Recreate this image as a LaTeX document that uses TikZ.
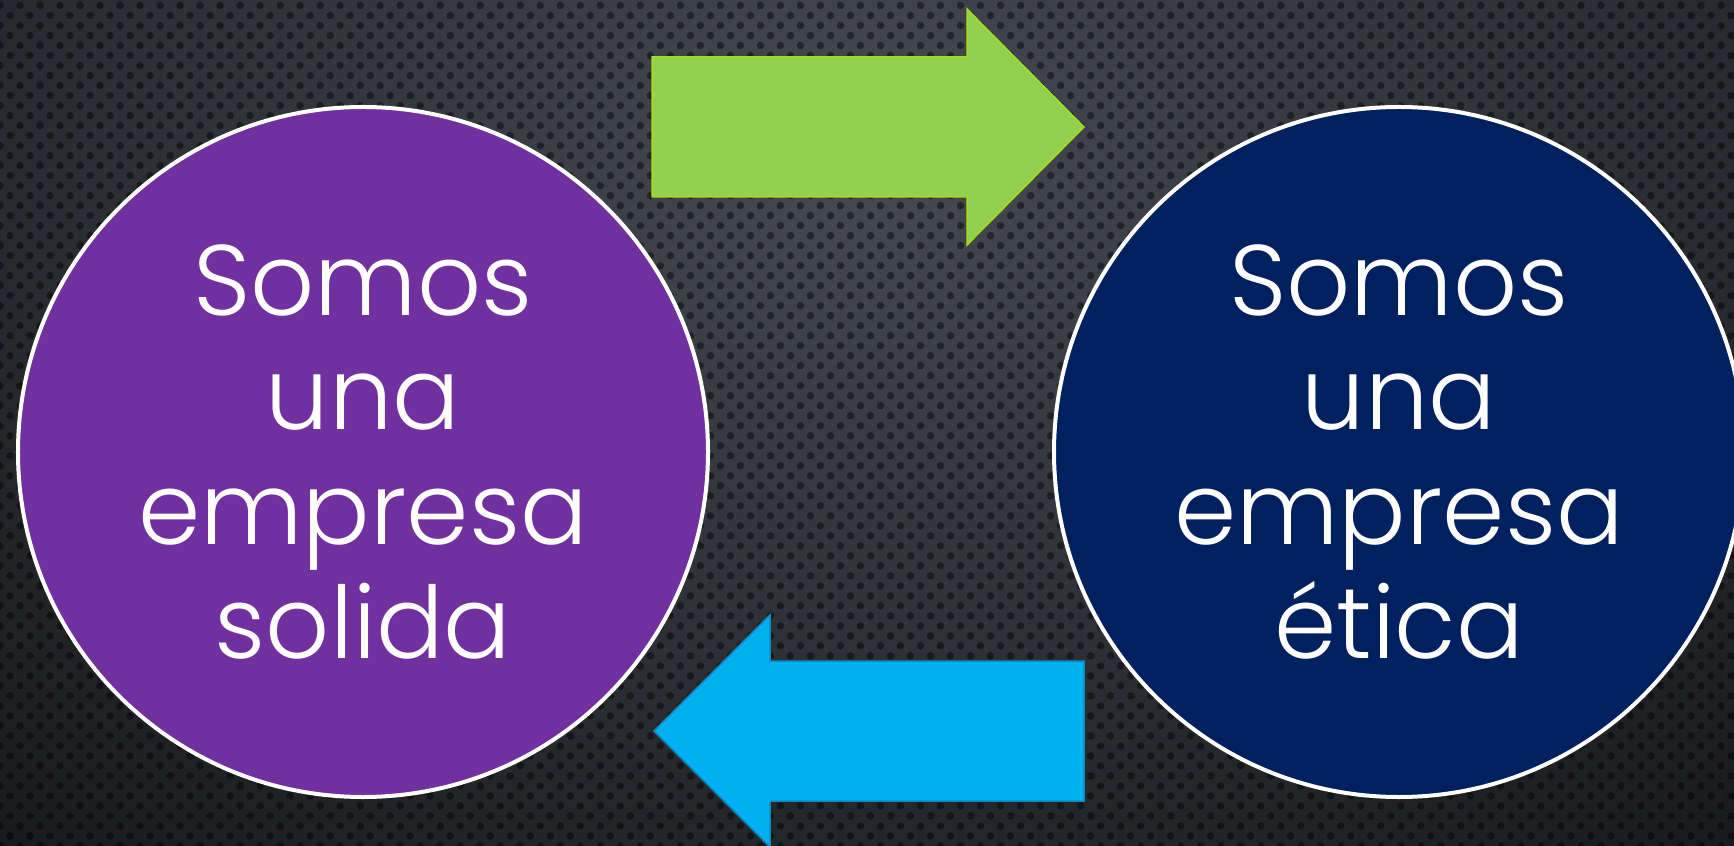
\documentclass[tikz,border=0pt]{standalone}
\usepackage{fontspec}
\setmainfont{Poppins Light}
\usetikzlibrary{patterns.meta}

\definecolor{bglight}{HTML}{464A52}
\definecolor{bgdark}{HTML}{17181B}
\definecolor{violeta}{HTML}{7030A0}
\definecolor{marino}{HTML}{002060}
\definecolor{verde}{HTML}{92D050}
\definecolor{verdeborde}{HTML}{A6DA1E}
\definecolor{celeste}{HTML}{00B0F0}
\definecolor{celesteborde}{HTML}{0A8CC0}

\begin{document}
\begin{tikzpicture}[x=0.2mm,y=-0.2mm,
	circulo/.style={circle, draw=white, line width=0.8mm, minimum size=138mm,
		inner sep=0pt, outer sep=0pt, text=white, align=center,
		font=\fontsize{57}{65}\selectfont}]
	
	% fondo
	\useasboundingbox (0,0) rectangle (1734,846);
	\begin{scope}
		\clip (0,0) rectangle (1734,846);
		\fill[bgdark] (0,0) rectangle (1734,846);
		\shade[inner color=bglight, outer color=bgdark] (870,150) ellipse (1350 and 950);
		\fill[pattern={Dots[angle=45, distance=2.83mm, radius=0.75mm]}, pattern color=black, fill opacity=0.45]
			(0,0) rectangle (1734,846);
	\end{scope}
	
	% circulos
	\node[circulo, fill=violeta] (solida) at (363,452) {Somos\\una\\empresa\\solida};
	\node[circulo, fill=marino] (etica) at (1399,452) {Somos\\una\\empresa\\ética};
	
	% flecha verde
	\coordinate (g1) at (652,57);
	\coordinate (g2) at (967,57);
	\coordinate (g3) at (967,9);
	\coordinate (g4) at (1084,127);
	\coordinate (g5) at (967,245);
	\coordinate (g6) at (967,197);
	\coordinate (g7) at (652,197);
	\draw[fill=verde, draw=verdeborde, line width=0.3mm] (g1) -- (g2) -- (g3) -- (g4) -- (g5) -- (g6) -- (g7) -- cycle;
	
	% flecha celeste
	\coordinate (b1) at (1084,661);
	\coordinate (b2) at (770,661);
	\coordinate (b3) at (770,615);
	\coordinate (b4) at (654,731);
	\coordinate (b5) at (770,847);
	\coordinate (b6) at (770,801);
	\coordinate (b7) at (1084,801);
	\draw[fill=celeste, draw=celesteborde, line width=0.3mm] (b1) -- (b2) -- (b3) -- (b4) -- (b5) -- (b6) -- (b7) -- cycle;
	
\end{tikzpicture}
\end{document}
